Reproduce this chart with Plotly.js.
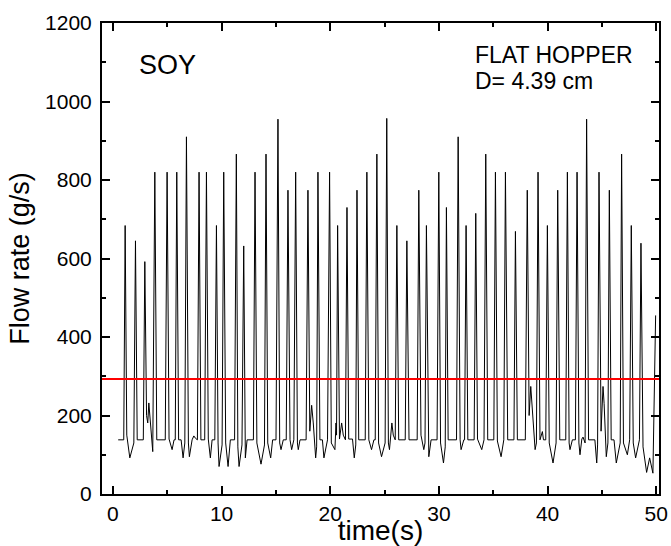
<!DOCTYPE html>
<html>
<head>
<meta charset="utf-8">
<script src="https://cdn.plot.ly/plotly-3.0.1.min.js"></script>
<style>html,body{margin:0;padding:0;background:#fff;}#chart{width:671px;height:546px;}</style>
</head>
<body>
<div id="chart"></div>
<script>
// Flow rate signal vertices (time in s, flow rate in g/s)
const timeS = [
  0.49, 1.00,
  1.13, 1.28, 1.56, 1.93,
  2.08, 2.24, 2.80,
  2.94, 3.10, 3.21, 3.31, 3.42, 3.67,
  3.86, 4.04, 4.82,
  4.99, 5.17, 5.45, 5.63, 5.74,
  5.88, 6.05, 6.28, 6.46, 6.62,
  6.77, 6.95, 7.04, 7.29, 7.45, 7.60, 7.78,
  7.93, 8.10, 8.45,
  8.61, 8.78, 8.97, 9.13, 9.38,
  9.53, 9.68, 9.77, 10.05,
  10.20, 10.38, 10.60, 10.81, 11.20,
  11.36, 11.50, 11.61, 11.88,
  12.04, 12.19, 12.35, 12.93,
  13.08, 13.25, 13.63, 13.95,
  14.09, 14.25, 14.52, 14.70, 15.01,
  15.19, 15.35, 15.47, 15.68, 15.95,
  16.11, 16.30, 16.45, 16.65,
  16.82, 16.98, 17.06, 17.22, 17.78,
  17.95, 18.12, 18.29, 18.44, 18.66, 18.75,
  18.87, 19.05, 19.28, 19.42, 19.75,
  19.94, 20.10, 20.43, 20.53, 20.58,
  20.68, 20.85, 21.05, 21.20, 21.40,
  21.54, 21.70, 22.05, 22.21, 22.35,
  22.46, 22.62, 23.22,
  23.37, 23.55, 23.80, 24.02, 24.14,
  24.29, 24.45, 24.72, 25.05,
  25.20, 25.35, 25.45, 25.67, 25.80, 25.98,
  26.13, 26.30, 26.90,
  27.05, 27.25, 28.00,
  28.15, 28.35, 28.61, 28.72,
  28.85, 29.00, 29.07, 29.28, 29.83,
  29.99, 30.15, 30.42, 30.58,
  30.69, 30.85, 31.62,
  31.77, 31.95, 32.04, 32.29, 32.36,
  32.50, 32.66, 33.24,
  33.39, 33.55, 33.94, 34.15,
  34.31, 34.49, 35.05,
  35.20, 35.38, 35.72, 35.97,
  36.12, 36.33, 36.90,
  37.04, 37.22, 37.95,
  38.13, 38.30, 38.45, 38.54, 38.85, 38.97,
  39.12, 39.30, 39.52, 39.62, 39.83,
  39.98, 40.15, 40.50, 40.78,
  40.93, 41.12, 41.67,
  41.82, 41.98, 42.06, 42.28, 42.56,
  42.71, 42.88, 42.98, 43.15, 43.26, 43.45,
  43.59, 43.77, 44.35, 44.52, 44.60,
  44.73, 44.92, 45.10, 45.20, 45.40, 45.55,
  45.68, 45.85, 46.11, 46.32, 46.68,
  46.81, 46.98, 47.34, 47.55,
  47.70, 47.88, 48.10, 48.45,
  48.59, 48.78, 49.11, 49.39, 49.69,
  49.94
];
const flowRate = [
  138, 138,
  684, 150, 92, 130,
  645, 138, 138,
  592, 200, 181, 232, 190, 108,
  820, 138, 138,
  820, 140, 113, 138, 138,
  820, 138, 138, 92, 130,
  910, 130, 95, 138, 148, 142, 138,
  820, 138, 138,
  820, 140, 92, 138, 138,
  684, 130, 70, 125,
  820, 130, 70, 138, 138,
  866, 120, 70, 125,
  632, 92, 138, 138,
  820, 130, 76, 125,
  866, 130, 92, 138, 138,
  955, 130, 113, 138, 138,
  774, 138, 113, 138,
  820, 130, 113, 138, 138,
  774, 160, 226, 181, 92, 120,
  820, 138, 138, 92, 138,
  820, 130, 113, 181, 150,
  684, 140, 181, 150, 138,
  730, 140, 140, 92, 125,
  774, 138, 138,
  820, 138, 113, 138, 138,
  866, 130, 95, 130,
  957, 130, 113, 181, 150, 138,
  684, 138, 138,
  645, 138, 138,
  774, 150, 113, 130,
  684, 130, 95, 138, 138,
  820, 130, 79, 120,
  730, 138, 138,
  910, 138, 113, 138, 138,
  684, 138, 138,
  715, 140, 113, 138,
  866, 138, 138,
  820, 135, 95, 138,
  820, 138, 138,
  669, 138, 138,
  774, 200, 274, 240, 113, 130,
  820, 138, 159, 138, 138,
  684, 130, 79, 130,
  774, 138, 138,
  820, 130, 113, 138, 138,
  820, 130, 100, 140, 145, 130,
  955, 138, 138, 79, 125,
  820, 160, 274, 230, 95, 130,
  774, 138, 138, 79, 130,
  866, 130, 100, 138,
  684, 130, 92, 138,
  639, 120, 55, 92, 53,
  455
];
const meanFlow = 293;
const xTickVals = [0, 10, 20, 30, 40, 50];
const yTickVals = [0, 200, 400, 600, 800, 1000, 1200];
const labelSample = "SOY";
const labelHopper = "FLAT HOPPER";
const labelDiameter = "D= 4.39 cm";

const FONT = "Arial, 'Liberation Sans', sans-serif";

const traces = [
  {
    x: timeS, y: flowRate, type: "scatter", mode: "lines",
    line: {color: "#000", width: 1}, hoverinfo: "x+y", showlegend: false
  }
];

const axisCommon = {
  showline: true, linecolor: "#000", linewidth: 2, mirror: "ticks",
  ticks: "inside", ticklen: 8, tickwidth: 2, tickcolor: "#000",
  showgrid: false, zeroline: false,
  tickfont: {family: FONT, size: 21, color: "#000"}
};

const layout = {
  width: 671, height: 546,
  margin: {l: 102, r: 12, t: 23, b: 52},
  paper_bgcolor: "#fff", plot_bgcolor: "#fff",
  font: {family: FONT, color: "#000"},
  showlegend: false,
  xaxis: Object.assign({}, axisCommon, {
    range: [-1, 50.25], tickmode: "array", tickvals: xTickVals,
    minor: {dtick: 5, tick0: 0, ticks: "inside", ticklen: 4, tickwidth: 2, tickcolor: "#000"},
    title: {text: "time(s)", font: {family: FONT, size: 28, color: "#000"}, standoff: 2}
  }),
  yaxis: Object.assign({}, axisCommon, {
    range: [0, 1200], tickmode: "array", tickvals: yTickVals,
    ticklabelstandoff: 4,
    minor: {dtick: 100, tick0: 0, ticks: "inside", ticklen: 4, tickwidth: 2, tickcolor: "#000"},
    title: {text: "Flow rate (g/s)", font: {family: FONT, size: 27, color: "#000"}, standoff: 8}
  }),
  shapes: [
    {type: "line", xref: "paper", x0: 0, x1: 1, yref: "y", y0: meanFlow, y1: meanFlow,
     line: {color: "#ff0000", width: 2}}
  ],
  annotations: [
    {text: labelSample, xref: "paper", yref: "paper", x: 0.062, y: 0.911,
     xanchor: "left", yanchor: "middle", showarrow: false,
     font: {family: FONT, size: 27, color: "#000"}},
    {text: labelHopper, xref: "paper", yref: "paper", x: 0.666, y: 0.933,
     xanchor: "left", yanchor: "middle", showarrow: false,
     font: {family: FONT, size: 23, color: "#000"}},
    {text: labelDiameter, xref: "paper", yref: "paper", x: 0.666, y: 0.876,
     xanchor: "left", yanchor: "middle", showarrow: false,
     font: {family: FONT, size: 23, color: "#000"}}
  ]
};

Plotly.newPlot("chart", traces, layout, {displayModeBar: false, staticPlot: true});
</script>
</body>
</html>
